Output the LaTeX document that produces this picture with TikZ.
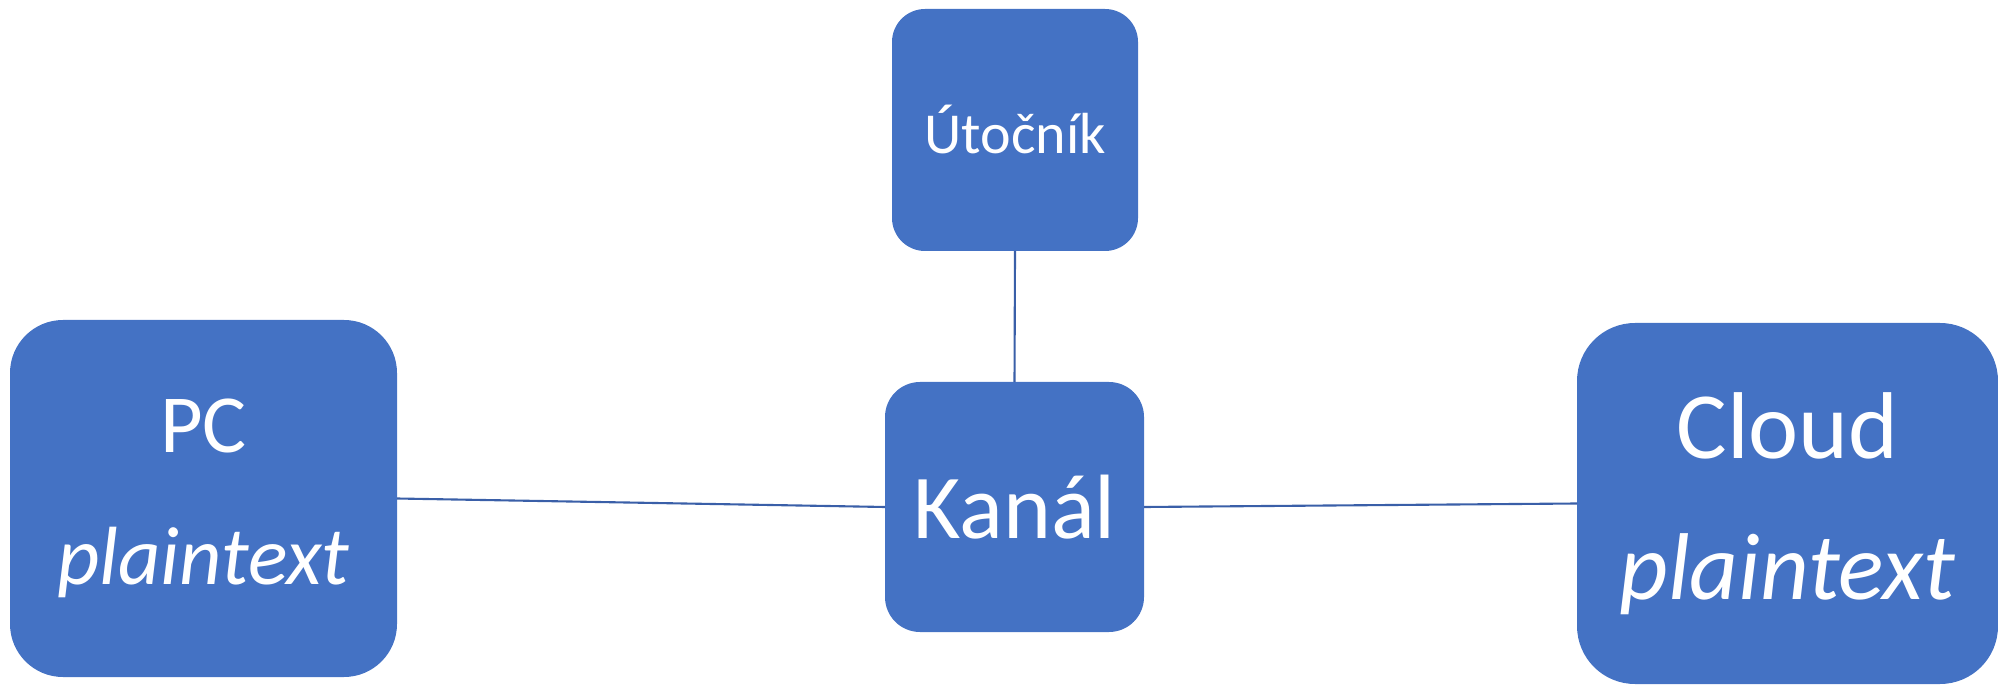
\documentclass[tikz,border=0pt]{standalone}
\usepackage{fontspec}
\setmainfont{Carlito}
\usepackage{xcolor}
\usetikzlibrary{positioning,calc}
\definecolor{boxblue}{HTML}{4472C4}
\definecolor{linkblue}{HTML}{3A5FA8}

\begin{document}
\begin{tikzpicture}[outer sep=0pt,
    box/.style={rectangle, fill=boxblue, text=white, inner sep=0pt, align=center},
    link/.style={draw=linkblue, line width=0.6pt}]
    \useasboundingbox (0,0) rectangle (19.98,6.84);
    \node (kanal) [box, minimum width=2.59cm, minimum height=2.50cm, rounded corners=0.35cm,
        font=\fontsize{26}{30}\selectfont] at (10.145,1.77) {Kanál};
    \node (utocnik) [box, minimum width=2.46cm, minimum height=2.42cm, rounded corners=0.33cm,
        font=\fontsize{16.5}{20}\selectfont] at (10.15,5.54) {Útočník};
    \node (pc) [box, minimum width=3.87cm, minimum height=3.57cm, rounded corners=0.53cm,
        font=\fontsize{23.5}{37.5}\selectfont] at (2.035,1.855) {PC\\\textit{plaintext}};
    \node (cloud) [box, minimum width=4.21cm, minimum height=3.61cm, rounded corners=0.58cm,
        font=\fontsize{27}{40}\selectfont] at (17.875,1.805) {Cloud\\\textit{plaintext}};
    \draw[link] (pc.east) -- (kanal.west);
    \draw[link] (kanal.east) -- (cloud.west);
    \draw[link] (utocnik.south) -- (kanal.north);
\end{tikzpicture}
\end{document}
